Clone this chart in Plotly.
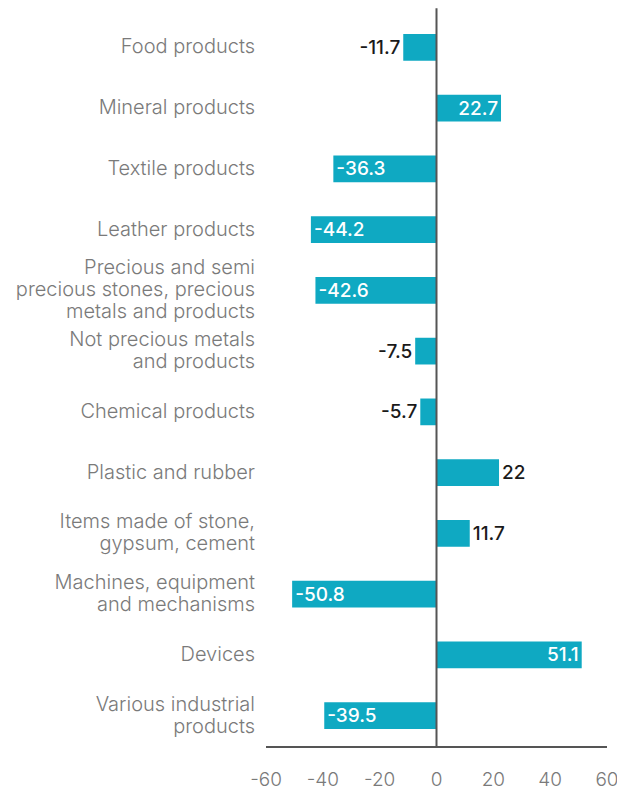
import plotly.graph_objects as go

categories = [
    "Food products",
    "Mineral products",
    "Textile products",
    "Leather products",
    "Precious and semi<br>precious stones, precious<br>metals and products",
    "Not precious metals<br>and products",
    "Chemical products",
    "Plastic and rubber",
    "Items made of stone,<br>gypsum, cement",
    "Machines, equipment<br>and mechanisms",
    "Devices",
    "Various industrial<br>products",
]
values = [-11.7, 22.7, -36.3, -44.2, -42.6, -7.5, -5.7, 22, 11.7, -50.8, 51.1, -39.5]
labels = ["-11.7", "22.7", "-36.3", "-44.2", "-42.6", "-7.5", "-5.7", "22", "11.7", "-50.8", "51.1", "-39.5"]
tick_vals = [-60, -40, -20, 0, 20, 40, 60]
tick_text = ["-60", "-40", "-20", "0", "20", "40", "60"]

inside = [abs(v) > 22.5 for v in values]
positions = ["inside" if i else "outside" for i in inside]

FONT = "Inter"

fig = go.Figure(go.Bar(
    y=categories,
    x=values,
    orientation="h",
    marker=dict(color="#0fa9c2", line=dict(width=0)),
    text=labels,
    textposition=positions,
    insidetextanchor="end",
    outsidetextfont=dict(family=FONT, size=19, color="#1a1a1a", weight=500),
    insidetextfont=dict(family=FONT, size=19, color="#ffffff", weight=500),
    cliponaxis=False,
    constraintext="none",
))

# category labels: rendered at 20px, with line spacing from a 17px base
cat_ticktext = ['<span style="font-size:20px">' + c.replace("<br>", '</span><br><span style="font-size:20px">') + "</span>"
                for c in categories]

# page body has an 8px default margin, so the figure is sized to fill the rest
fig.update_layout(
    width=617, height=783,
    margin=dict(l=258, r=18, t=9, b=45),
    plot_bgcolor="white", paper_bgcolor="white",
    bargap=0.56,
    showlegend=False,
    font=dict(family=FONT, color="#7a7a7a", size=19),
    xaxis=dict(
        range=[-60, 60],
        tickvals=tick_vals, ticktext=tick_text,
        showgrid=False, zeroline=False,
        showline=True, linecolor="#555555", linewidth=2,
        ticks="", ticklabelstandoff=15,
        tickfont=dict(family=FONT, size=19, color="#7a7a7a", weight=300),
        automargin=False,
        fixedrange=True,
    ),
    yaxis=dict(
        autorange="reversed",
        tickmode="array", tickvals=categories, ticktext=cat_ticktext,
        showgrid=False, zeroline=False, showline=False,
        ticks="", ticklabelstandoff=10,
        tickfont=dict(family=FONT, size=17, color="#7a7a7a", weight=300),
        automargin=False,
    ),
    shapes=[dict(type="line", xref="x", yref="paper", x0=0, x1=0, y0=0, y1=1.012,
                 line=dict(color="#555555", width=2), layer="above")],
)

fig.write_html("out.html")
